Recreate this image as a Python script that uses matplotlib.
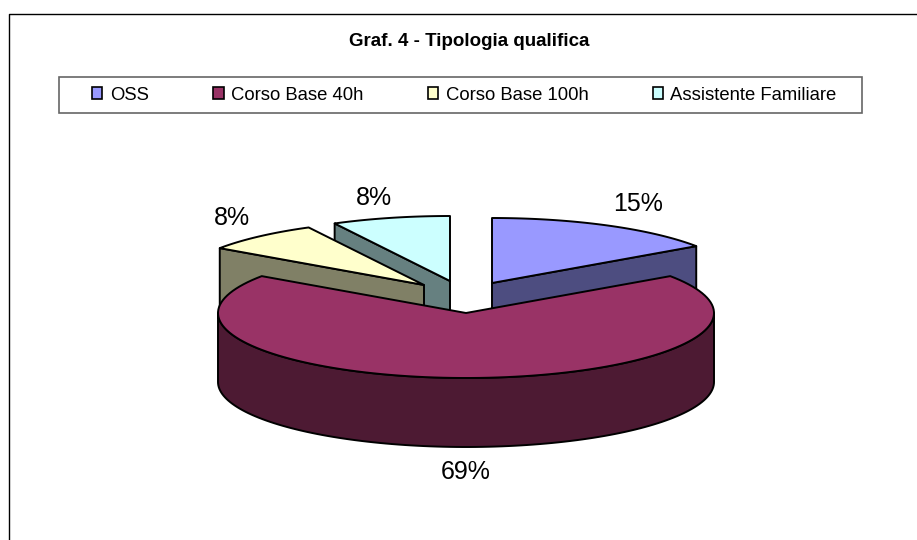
import numpy as np
import matplotlib
matplotlib.use("Agg")
import matplotlib.pyplot as plt
from matplotlib.patches import Polygon, Patch, Rectangle

plt.rcParams['font.family'] = ['Liberation Sans', 'DejaVu Sans']

categories = ["OSS", "Corso Base 40h", "Corso Base 100h", "Assistente Familiare"]
shares = [15.4, 69.2, 7.7, 7.7]
top_colors = ["#9999FF", "#993366", "#FFFFCC", "#CCFFFF"]
side_colors = ["#4D4D80", "#4D1A33", "#808066", "#668080"]

# layout of the fake 3d pie, in pixels
center = (466, 313)
rx, ry = 248, 65
depth = 69
offsets = [(26, -30), (0, 0), (-42, -28), (-16, -32)]
label_pos = [(638, 204), (466, 472), (232, 218), (374, 198)]
draw_order = [3, 2, 0, 1]


def arc(cx, cy, a0, a1):
    # angles in degrees, clockwise from 12 o'clock
    a = np.deg2rad(np.linspace(a0, a1, 120))
    return np.column_stack((cx + rx * np.sin(a), cy - ry * np.cos(a)))


def draw_slice(ax, start, end, top, side, off):
    cx, cy = center[0] + off[0], center[1] + off[1]
    down = np.array([0, depth])
    apex = np.array([cx, cy])

    # radial wall, only the one that faces the viewer
    wall_angle = None
    if end <= 180:
        wall_angle = end
    elif start >= 180:
        wall_angle = start
    if wall_angle is not None:
        edge = arc(cx, cy, wall_angle, wall_angle)[0]
        ax.add_patch(Polygon([apex, edge, edge + down, apex + down],
                             fc=side, ec="black", lw=1.4, joinstyle="round"))

    # outer wall, front half only
    a0, a1 = max(start, 90), min(end, 270)
    if a0 < a1:
        rim = arc(cx, cy, a0, a1)
        ax.add_patch(Polygon(np.vstack((rim, rim[::-1] + down)),
                             fc=side, ec="black", lw=1.4, joinstyle="round"))

    ax.add_patch(Polygon(np.vstack((apex, arc(cx, cy, start, end))),
                         fc=top, ec="black", lw=1.4, joinstyle="round"))


def main():
    fig = plt.figure(figsize=(9.17, 5.40), dpi=100)
    ax = fig.add_axes([0, 0, 1, 1])
    ax.set_xlim(0, 917)
    ax.set_ylim(540, 0)
    ax.axis("off")

    # chart frame, cut off on the right and at the bottom
    ax.plot([9, 9, 917], [540, 13.5, 13.5], color="black", lw=1.0)

    ax.text(469.5, 41, "Graf. 4 - Tipologia qualifica", ha="center", va="center",
            fontsize=13.5, fontweight="bold")

    edges = np.cumsum([0] + shares) / sum(shares) * 360
    for i in draw_order:
        draw_slice(ax, edges[i], edges[i + 1], top_colors[i], side_colors[i], offsets[i])

    for i in range(len(shares)):
        ax.text(label_pos[i][0], label_pos[i][1], f"{round(shares[i])}%",
                ha="center", va="center", fontsize=18)

    # legend box is wider than the entries, so it gets its own frame
    ax.add_patch(Rectangle((59, 77), 803, 35.5, fc="white", ec="#666666", lw=1.2))
    handles = [Patch(fc=c, ec="black", lw=1.2) for c in top_colors]
    ax.legend(handles, categories, ncol=4, loc="center",
              bbox_to_anchor=(464.5, 95), bbox_transform=ax.transData,
              fontsize=13.3, frameon=False, columnspacing=3.5, handlelength=0.55,
              handleheight=0.55, handletextpad=0.4, borderpad=0,
              borderaxespad=0)

    fig.savefig("out.png", dpi=100)


if __name__ == "__main__":
    main()
